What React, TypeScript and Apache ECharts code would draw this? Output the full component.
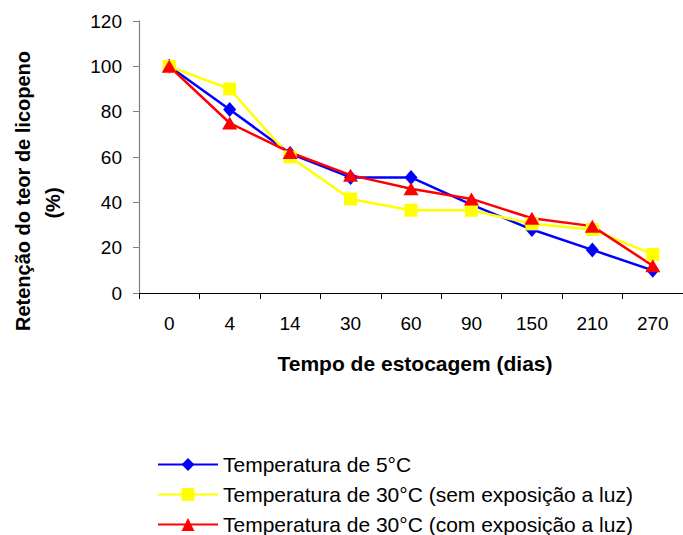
import React, { useEffect, useRef } from "react";
import * as echarts from "echarts";

// Storage time (days) on the category axis
const dias = ["0", "4", "14", "30", "60", "90", "150", "210", "270"];

// Lycopene retention (%) for each storage condition
const temp5C = [100, 81, 61.5, 51, 51, 39, 28, 19, 10];
const temp30SemLuz = [100, 90, 60, 41.5, 36.5, 36.5, 30.5, 28, 17];
const temp30ComLuz = [100, 75, 62, 52, 46, 41.5, 33, 29.5, 12];

const seriesNames = [
  "Temperatura de 5°C",
  "Temperatura de 30°C (sem exposição a luz)",
  "Temperatura de 30°C (com exposição a luz)",
];

const yTicks = { min: 0, max: 120, interval: 20 };

const FONT = "'Liberation Sans', Arial, sans-serif";

export default function App() {
  const ref = useRef<HTMLDivElement>(null);

  useEffect(() => {
    if (!ref.current) return;
    const chart = echarts.init(ref.current, null, { renderer: "svg" });

    const lineSeries = (
      name: string,
      data: number[],
      color: string,
      symbol: string,
      symbolSize: number | number[]
    ) => ({
      name,
      type: "line",
      data,
      symbol,
      symbolSize,
      showAllSymbol: true,
      lineStyle: { color, width: 2.5 },
      itemStyle: { color, borderWidth: 0 },
      emphasis: { disabled: true },
    });

    // one legend block per row so the three rows stack at fixed positions
    const legendRow = (name: string, top: number) => ({
      orient: "horizontal",
      left: 157,
      top,
      padding: 0,
      itemWidth: 60,
      itemHeight: 16,
      textStyle: { color: "#000000", fontSize: 21, lineHeight: 20, fontFamily: FONT },
      data: [name],
      selectedMode: false,
    });

    chart.setOption({
      animation: false,
      backgroundColor: "#ffffff",
      textStyle: { fontFamily: FONT },
      grid: { left: 139, right: -9, top: 21, bottom: 242, containLabel: false },
      xAxis: {
        type: "category",
        data: dias,
        boundaryGap: true,
        axisLine: { lineStyle: { color: "#000000", width: 1.2 } },
        axisTick: { show: true, length: 6, inside: false, lineStyle: { color: "#000000" } },
        axisLabel: { color: "#000000", fontSize: 19, margin: 21, fontFamily: FONT },
        splitLine: { show: false },
      },
      yAxis: {
        type: "value",
        min: yTicks.min,
        max: yTicks.max,
        interval: yTicks.interval,
        axisLine: { show: true, lineStyle: { color: "#7f7f7f", width: 1.2 } },
        axisTick: { show: true, length: 6, lineStyle: { color: "#7f7f7f" } },
        axisLabel: { color: "#000000", fontSize: 19, margin: 17, fontFamily: FONT },
        splitLine: { show: false },
      },
      legend: [
        legendRow(seriesNames[0], 454),
        legendRow(seriesNames[1], 484),
        legendRow(seriesNames[2], 514),
      ],
      graphic: [
        {
          type: "text",
          x: 23,
          y: 191,
          rotation: Math.PI / 2,
          style: {
            text: "Retenção do teor de licopeno",
            fontSize: 20,
            fontWeight: "bold",
            fontFamily: FONT,
            fill: "#000000",
            align: "center",
            verticalAlign: "middle",
          },
        },
        {
          type: "text",
          x: 53,
          y: 203,
          rotation: Math.PI / 2,
          style: {
            text: "(%)",
            fontSize: 20,
            fontWeight: "bold",
            fontFamily: FONT,
            fill: "#000000",
            align: "center",
            verticalAlign: "middle",
          },
        },
        {
          type: "text",
          x: 415,
          y: 363,
          style: {
            text: "Tempo de estocagem (dias)",
            fontSize: 21,
            fontWeight: "bold",
            fontFamily: FONT,
            fill: "#000000",
            align: "center",
            verticalAlign: "middle",
          },
        },
      ],
      series: [
        lineSeries(seriesNames[0], temp5C, "#0000ff", "diamond", [13, 15]),
        lineSeries(seriesNames[1], temp30SemLuz, "#ffff00", "rect", 13),
        lineSeries(seriesNames[2], temp30ComLuz, "#ff0000", "triangle", [15, 13]),
      ],
    });

    return () => chart.dispose();
  }, []);

  return (
    <div
      ref={ref}
      style={{ position: "fixed", left: 0, top: 0, width: 683, height: 535 }}
    />
  );
}
